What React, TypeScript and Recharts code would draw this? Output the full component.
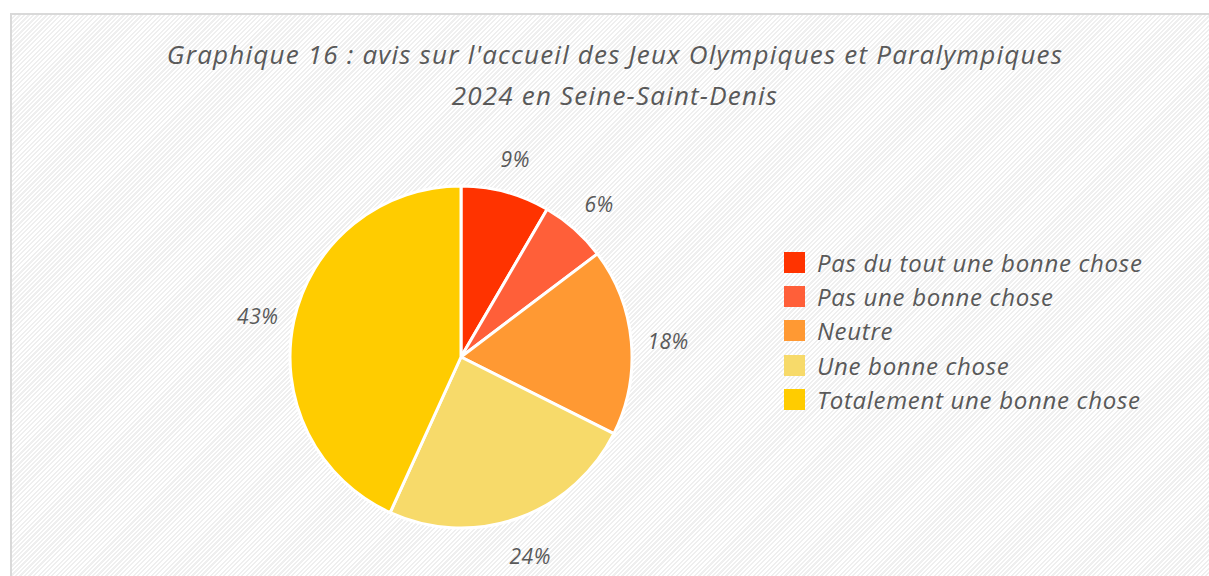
import { PieChart, Pie, Cell, Legend } from 'recharts';

// categories + shares (angles), printed labels as shown
const categories = [
  'Pas du tout une bonne chose',
  'Pas une bonne chose',
  'Neutre',
  'Une bonne chose',
  'Totalement une bonne chose',
];
const shares = [8.4, 6.3, 17.7, 24.4, 43.2];
const shareLabels = ['9%', '6%', '18%', '24%', '43%'];
const colors = ['#FF3300', '#FF5F39', '#FF9933', '#F7DA6A', '#FFCC00'];

const TEXT = '#595959';
const FONT = '"Open Sans", sans-serif';
const RADIAN = Math.PI / 180;

const data = categories.map((name, i) => ({
  name,
  value: shares[i],
  label: shareLabels[i],
  color: colors[i],
}));

function renderLabel(props: any) {
  const { cx, cy, midAngle, outerRadius, index } = props;
  const r = outerRadius + 37;
  const x = cx + r * Math.cos(-midAngle * RADIAN);
  const y = cy + r * Math.sin(-midAngle * RADIAN) + 3;
  return (
    <text
      x={x}
      y={y}
      fill={TEXT}
      textAnchor="middle"
      dominantBaseline="central"
      style={{ fontFamily: FONT, fontStyle: 'italic', fontSize: 21, letterSpacing: 0.5 }}
    >
      {data[index].label}
    </text>
  );
}

function LegendBox() {
  return (
    <div style={{ fontFamily: FONT, fontStyle: 'italic', fontSize: 24, letterSpacing: 0.7, color: TEXT }}>
      {data.map((d) => (
        <div key={d.name} style={{ display: 'flex', alignItems: 'center', height: 34.3 }}>
          <span
            style={{
              width: 21,
              height: 21,
              background: d.color,
              display: 'inline-block',
              marginRight: 12,
              flexShrink: 0,
            }}
          />
          <span style={{ whiteSpace: 'nowrap' }}>{d.name}</span>
        </div>
      ))}
    </div>
  );
}

export default function App() {
  return (
    <div style={{ position: 'fixed', left: 0, top: 0, width: 1209, height: 576, overflow: 'hidden', background: '#fff' }}>
      <style>{'html,body{margin:0;overflow:hidden;background:#fff}'}</style>
      <div
        style={{
          position: 'absolute',
          left: 10,
          top: 13,
          right: 0,
          bottom: 0,
          borderTop: '2px solid #d9d9d9',
          borderLeft: '2px solid #d9d9d9',
          background:
            'repeating-linear-gradient(135deg, #ffffff 0px, #ffffff 1.6px, #efefef 1.6px, #efefef 3.2px)',
        }}
      />
      <div
        style={{
          position: 'absolute',
          left: 10,
          width: 1210,
          top: 34,
          textAlign: 'center',
          fontFamily: FONT,
          fontStyle: 'italic',
          fontSize: 26,
          letterSpacing: 1.2,
          lineHeight: '41px',
          color: TEXT,
        }}
      >
        Graphique 16 : avis sur l'accueil des Jeux Olympiques et Paralympiques
        <br />
        2024 en Seine-Saint-Denis
      </div>
      <div style={{ position: 'absolute', left: 0, top: 0 }}>
        <PieChart width={1209} height={576} margin={{ top: 0, right: 0, bottom: 0, left: 0 }}>
          <Pie
            data={data}
            dataKey="value"
            nameKey="name"
            cx={461}
            cy={357}
            outerRadius={171}
            startAngle={90}
            endAngle={-270}
            stroke="#ffffff"
            strokeWidth={3}
            label={renderLabel}
            labelLine={false}
            isAnimationActive={false}
          >
            {data.map((d) => (
              <Cell key={d.name} fill={d.color} />
            ))}
          </Pie>
          <Legend
            content={() => <LegendBox />}
            wrapperStyle={{ left: 784, top: 245, width: 420 }}
          />
        </PieChart>
      </div>
    </div>
  );
}
